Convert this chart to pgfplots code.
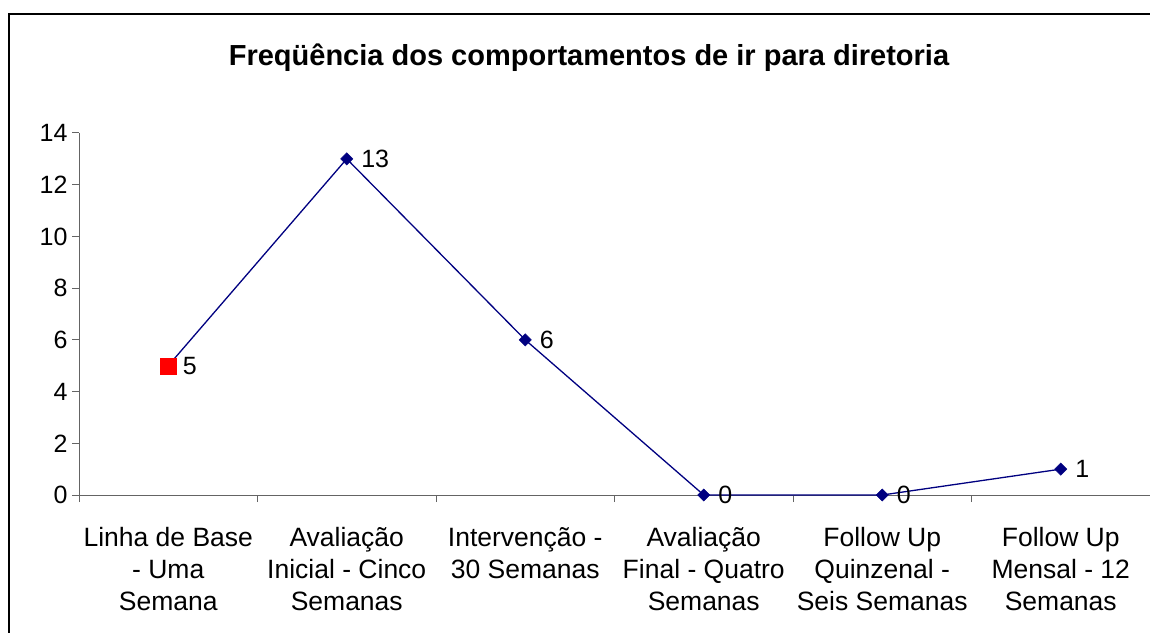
\documentclass[border=0pt]{standalone}
\usepackage{pgfplots}
\pgfplotsset{compat=1.18}
\usepackage{fontspec}
\setmainfont{Liberation Sans}
\definecolor{navy}{RGB}{0,0,128}
\definecolor{axgray}{RGB}{100,100,100}
\begin{document}
\begin{tikzpicture}[x=1pt,y=1pt]
\useasboundingbox (0,0) rectangle (1150,632);
\draw[line width=1.5pt] (9,-5) -- (9,618) -- (1160,618);
\node[font=\bfseries\fontsize{29}{33}\selectfont, anchor=base] at (589,566) {Freqüência dos comportamentos de ir para diretoria};
\begin{axis}[
  at={(79pt,137pt)}, anchor=south west,
  scale only axis, width=1071pt, height=362pt,
  xmin=-0.5, xmax=5.5, ymin=0, ymax=14,
  ytick={0,2,...,14},
  xtick={-0.5,0.5,...,5.5}, xticklabels={},
  extra x ticks={0,1,2,3,4,5},
  extra x tick style={major tick length=0pt},
  extra x tick labels={{Linha de Base\\- Uma\\Semana},{Avaliação\\Inicial - Cinco\\Semanas},{Intervenção -\\30 Semanas},{Avaliação\\Final - Quatro\\Semanas},{Follow Up\\Quinzenal -\\Seis Semanas},{Follow Up\\Mensal - 12\\Semanas}},
  axis x line*=bottom, axis y line*=left,
  axis line style={-, draw=axgray, line width=1pt},
  tick style={draw=axgray, line width=1pt},
  tick align=outside, major tick length=7pt,
  yticklabel style={font=\fontsize{25}{30}\selectfont, text=black, xshift=-1pt},
  xticklabel style={font=\fontsize{26.5}{32}\selectfont, text=black, align=center, yshift=-29pt},
  /pgf/number format/assume math mode=true,
  clip=false,
]
\addplot[navy, line width=1.3pt, mark=square*, mark size=4.3pt, mark options={fill=navy, rotate=45, line width=0.5pt},
  nodes near coords, every node near coord/.append style={anchor=west, xshift=11pt, text=black, font=\fontsize{25}{30}\selectfont}]
  coordinates {(0,5) (1,13) (2,6) (3,0) (4,0) (5,1)};
\addplot[draw=none, mark=square*, mark size=8pt, mark options={fill=red, draw=red}]
  coordinates {(0,5)};
\end{axis}
\end{tikzpicture}
\end{document}
